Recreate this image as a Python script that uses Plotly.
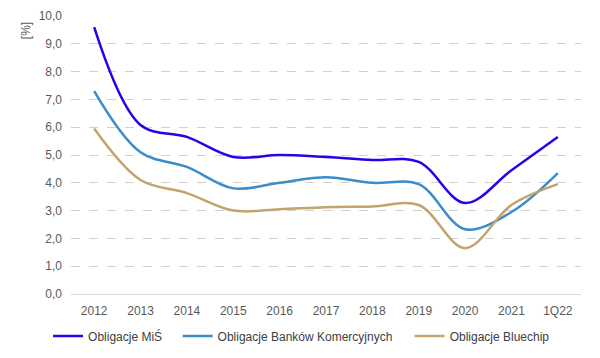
import plotly.graph_objects as go

categories = ["2012", "2013", "2014", "2015", "2016", "2017", "2018", "2019", "2020", "2021", "1Q22"]
mis = [9.6, 6.08, 5.65, 4.93, 5.0, 4.93, 4.82, 4.75, 3.27, 4.45, 5.65]
banki = [7.3, 5.1, 4.57, 3.8, 4.0, 4.2, 4.0, 3.95, 2.33, 2.95, 4.35]
bluechip = [5.95, 4.1, 3.63, 3.0, 3.05, 3.12, 3.15, 3.2, 1.65, 3.2, 3.95]

names = ["Obligacje MiŚ", "Obligacje Banków Komercyjnych", "Obligacje Bluechip"]
colors = ["#2D00EA", "#3A8DC9", "#C2A46C"]
legend_ids = ["legend", "legend2", "legend3"]
legend_x = [-0.045, 0.209, 0.664]

fig = go.Figure()
for name, vals, col, lid in zip(names, [mis, banki, bluechip], colors, legend_ids):
    fig.add_trace(go.Scatter(x=categories, y=vals, name=name, mode="lines", legend=lid,
                             line=dict(color=col, width=2.5, shape="spline", smoothing=1.0)))

leg_common = dict(orientation="h", xanchor="left", yref="container", y=0.0615,
                  yanchor="middle", font=dict(size=12, color="#404040"),
                  itemwidth=30, bgcolor="rgba(0,0,0,0)")

fig.update_layout(
    width=600, height=358,
    margin=dict(l=71, r=19, t=16, b=64),
    paper_bgcolor="white", plot_bgcolor="white",
    font=dict(family="Liberation Sans, Arial", size=12, color="#595959"),
    separators=", ",
    xaxis=dict(showgrid=False, showline=False, ticks="", tickfont=dict(size=12),
               range=[-0.5, 10.5], ticklabelstandoff=8, automargin=False),
    yaxis=dict(range=[0, 10], dtick=1, tickformat=".1f", showgrid=True,
               gridcolor="#D0D0D0", griddash="dash", gridwidth=1,
               zeroline=True, zerolinecolor="#D9D9D9", zerolinewidth=1,
               ticks="", tickfont=dict(size=12), ticklabelstandoff=8, automargin=False),
    legend=dict(x=legend_x[0], **leg_common),
    legend2=dict(x=legend_x[1], **leg_common),
    legend3=dict(x=legend_x[2], **leg_common),
    showlegend=True,
)
fig.add_annotation(text="[%]", xref="paper", yref="paper", x=-0.088, y=0.946,
                   textangle=-90, showarrow=False, font=dict(size=12, color="#595959"),
                   xanchor="center", yanchor="middle")
fig.write_html("out.html")
